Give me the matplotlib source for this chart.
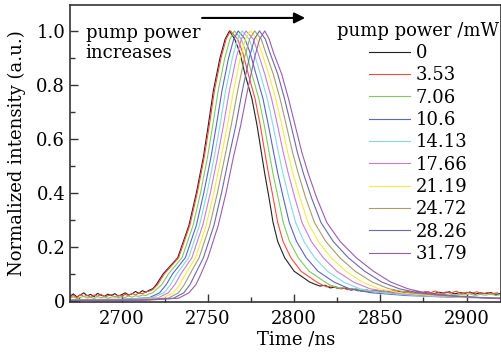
import numpy as np
import matplotlib
matplotlib.use('Agg')
import matplotlib.pyplot as plt
from matplotlib.ticker import MultipleLocator, FixedLocator, FixedFormatter

plt.rcParams['font.family'] = 'DejaVu Serif'
plt.rcParams['mathtext.fontset'] = 'dejavuserif'

# pump powers (legend) and line colours
powers = ['0', '3.53', '7.06', '10.6', '14.13', '17.66', '21.19', '24.72', '28.26', '31.79']
colors = ['#222222', '#ff4a3a', '#7fcc5a', '#5866c4', '#86d6ea', '#c77ed0',
          '#f2ea4a', '#a89c6a', '#6a6aa8', '#9a5cb4']

# intensity levels read on the rising and falling edges
rise_levels = [0.06, 0.1, 0.16, 0.28, 0.4, 0.53, 0.65, 0.78, 0.9, 0.97, 1.0]
fall_levels = [0.97, 0.92, 0.84, 0.75, 0.65, 0.55, 0.47, 0.38, 0.29, 0.22, 0.16, 0.11, 0.07]

# time (ns) at which each curve crosses the rise levels
rise_t = [
    [2720, 2724, 2732.5, 2739, 2743.3, 2747.3, 2750.2, 2753.2, 2757, 2760, 2762.5],
    [2720.7, 2724.7, 2733, 2739.5, 2743.8, 2747.8, 2750.8, 2753.8, 2757.6, 2760.6, 2763.1],
    [2723.2, 2727.1, 2735, 2741.4, 2745.7, 2749.7, 2752.8, 2756, 2759.8, 2762.8, 2765.4],
    [2725.8, 2729.5, 2736.9, 2743.3, 2747.6, 2751.7, 2754.9, 2758.2, 2762, 2765, 2767.6],
    [2728.3, 2731.9, 2738.8, 2745.1, 2749.5, 2753.6, 2757, 2760.3, 2764.2, 2767.2, 2769.9],
    [2730.8, 2734.3, 2740.7, 2747, 2751.4, 2755.5, 2759, 2762.5, 2766.4, 2769.4, 2772.1],
    [2733.6, 2737, 2742.8, 2749, 2753.4, 2757.6, 2761.3, 2764.9, 2768.8, 2771.8, 2774.6],
    [2736.3, 2739.6, 2744.9, 2751.1, 2755.5, 2759.7, 2763.5, 2767.3, 2771.2, 2774.2, 2777.1],
    [2739.6, 2742.7, 2747.4, 2753.5, 2757.9, 2762.1, 2766.2, 2770, 2774, 2777, 2779.9],
    [2743, 2746, 2750, 2756, 2760.5, 2764.7, 2769, 2773, 2777, 2780, 2783],
]

# time (ns) at which each curve crosses the fall levels
fall_t = [
    [2765.5, 2768.5, 2771.5, 2775.5, 2778.5, 2781, 2783, 2785.5, 2787.8, 2790.5, 2794.5, 2800, 2809],
    [2767.2, 2770.2, 2773.4, 2777.3, 2780.4, 2783, 2785.2, 2787.9, 2790.5, 2793.6, 2798.1, 2804, 2813.1],
    [2769.3, 2772.2, 2775.5, 2779.5, 2782.7, 2785.5, 2787.8, 2790.8, 2793.7, 2797.4, 2802.4, 2808.7, 2817.9],
    [2771.5, 2774.4, 2777.9, 2781.9, 2785.1, 2788.1, 2790.6, 2793.8, 2797.2, 2801.4, 2807, 2813.8, 2823.1],
    [2773.9, 2776.7, 2780.4, 2784.4, 2787.8, 2790.9, 2793.6, 2797.1, 2800.9, 2805.7, 2811.9, 2819.3, 2828.7],
    [2776.3, 2779, 2783, 2786.9, 2790.4, 2793.7, 2796.7, 2800.5, 2804.6, 2810, 2816.9, 2824.8, 2834.4],
    [2778.5, 2781.2, 2785.3, 2789.3, 2792.9, 2796.3, 2799.4, 2803.5, 2808.1, 2814, 2821.5, 2829.9, 2839.6],
    [2780.9, 2783.5, 2787.9, 2791.8, 2795.5, 2799.1, 2802.5, 2806.8, 2811.8, 2818.4, 2826.5, 2835.4, 2845.2],
    [2783.3, 2785.9, 2790.5, 2794.4, 2798.2, 2801.9, 2805.5, 2810.2, 2815.6, 2822.7, 2831.4, 2840.9, 2850.8],
    [2785.5, 2788, 2792.8, 2796.7, 2800.6, 2804.5, 2808.3, 2813.2, 2819, 2826.7, 2836, 2846, 2856],
]

# baseline before the pulse (noisy for the lowest three powers)
head_noisy_t = [2670, 2672, 2674, 2676, 2678, 2680, 2682, 2684, 2686, 2688, 2690, 2692, 2694,
                2696, 2698, 2700, 2702, 2704, 2706, 2708, 2710, 2712, 2714, 2716, 2718]
head_t = [
    head_noisy_t,
    head_noisy_t,
    head_noisy_t,
    [2670, 2700, 2716, 2722],
    [2670, 2700, 2718, 2724.5],
    [2670, 2705, 2721, 2727],
    [2670, 2708, 2724, 2730],
    [2670, 2710, 2727, 2733],
    [2670, 2712, 2730, 2736],
    [2670, 2715, 2733, 2739],
]
head_v = [
    [0.018, 0.026, 0.015, 0.022, 0.030, 0.019, 0.024, 0.016, 0.028, 0.021, 0.017, 0.025, 0.020,
     0.027, 0.018, 0.023, 0.030, 0.022, 0.026, 0.035, 0.028, 0.038, 0.032, 0.040, 0.045],
    [0.014, 0.020, 0.012, 0.024, 0.016, 0.021, 0.013, 0.022, 0.017, 0.025, 0.015, 0.019, 0.023,
     0.014, 0.021, 0.018, 0.024, 0.020, 0.028, 0.022, 0.030, 0.026, 0.034, 0.036, 0.042],
    [0.010, 0.015, 0.008, 0.013, 0.017, 0.011, 0.014, 0.009, 0.016, 0.012, 0.015, 0.010, 0.014,
     0.017, 0.012, 0.015, 0.013, 0.018, 0.014, 0.019, 0.017, 0.022, 0.020, 0.026, 0.030],
    [0.005, 0.006, 0.012, 0.030],
    [0.004, 0.005, 0.012, 0.030],
    [0.004, 0.005, 0.011, 0.030],
    [0.003, 0.004, 0.011, 0.030],
    [0.003, 0.004, 0.010, 0.030],
    [0.002, 0.003, 0.010, 0.030],
    [0.002, 0.003, 0.010, 0.030],
]

# tail after the pulse
tail_t = [
    [2812, 2815, 2818, 2821, 2824, 2827, 2830, 2833, 2836, 2839, 2842, 2845, 2848, 2851, 2854,
     2857, 2860, 2863, 2866, 2869, 2872, 2875, 2878, 2881, 2884, 2887, 2890, 2893, 2896, 2899,
     2902, 2905, 2908, 2911, 2914, 2917, 2920],
    [2816, 2819, 2822, 2825, 2828, 2831, 2834, 2837, 2840, 2843, 2846, 2849, 2852, 2855, 2858,
     2861, 2864, 2867, 2870, 2873, 2876, 2879, 2882, 2885, 2888, 2891, 2894, 2897, 2900, 2903,
     2906, 2909, 2912, 2915, 2918],
    [2821, 2824, 2827, 2830, 2833, 2836, 2839, 2842, 2845, 2848, 2851, 2854, 2857, 2860, 2863,
     2866, 2869, 2872, 2875, 2878, 2881, 2884, 2887, 2890, 2893, 2896, 2899, 2902, 2905, 2908,
     2911, 2914, 2917, 2920],
    [2832, 2845, 2865, 2890, 2920],
    [2838, 2851, 2870, 2895, 2920],
    [2844, 2857, 2875, 2898, 2920],
    [2849, 2862, 2880, 2900, 2920],
    [2855, 2867, 2884, 2903, 2920],
    [2861, 2872, 2888, 2906, 2920],
    [2866, 2876, 2890, 2908, 2920],
]
tail_v = [
    [0.062, 0.055, 0.058, 0.048, 0.052, 0.045, 0.047, 0.040, 0.044, 0.036, 0.041, 0.035, 0.039,
     0.032, 0.037, 0.031, 0.036, 0.030, 0.034, 0.028, 0.035, 0.030, 0.033, 0.027, 0.032, 0.029,
     0.034, 0.026, 0.031, 0.028, 0.033, 0.025, 0.030, 0.027, 0.031, 0.024, 0.028],
    [0.060, 0.052, 0.056, 0.046, 0.049, 0.041, 0.045, 0.037, 0.042, 0.034, 0.040, 0.031, 0.038,
     0.030, 0.041, 0.029, 0.036, 0.032, 0.039, 0.028, 0.035, 0.030, 0.037, 0.027, 0.033, 0.029,
     0.036, 0.026, 0.032, 0.028, 0.034, 0.025, 0.031, 0.027, 0.030],
    [0.058, 0.052, 0.047, 0.050, 0.042, 0.045, 0.037, 0.040, 0.033, 0.036, 0.030, 0.034, 0.028,
     0.032, 0.026, 0.030, 0.025, 0.029, 0.024, 0.028, 0.022, 0.027, 0.023, 0.026, 0.021, 0.025,
     0.022, 0.026, 0.020, 0.024, 0.021, 0.025, 0.020, 0.023],
    [0.045, 0.030, 0.020, 0.014, 0.012],
    [0.045, 0.030, 0.020, 0.013, 0.011],
    [0.045, 0.030, 0.020, 0.013, 0.010],
    [0.045, 0.030, 0.020, 0.013, 0.010],
    [0.045, 0.030, 0.020, 0.013, 0.010],
    [0.045, 0.030, 0.020, 0.013, 0.009],
    [0.045, 0.030, 0.020, 0.012, 0.008],
]

fs = 13

fig = plt.figure(figsize=(5.01, 3.56), dpi=100)
ax = fig.add_axes([0.1397, 0.1517, 0.8603, 0.8343])

for i in range(len(powers)):
    t = head_t[i] + rise_t[i] + fall_t[i] + tail_t[i]
    v = head_v[i] + rise_levels + fall_levels + tail_v[i]
    ax.plot(t, v, color=colors[i], lw=0.8, label=powers[i])

ax.set_xlim(2670, 2920)
ax.set_ylim(-0.004, 1.096)
ax.xaxis.set_major_locator(MultipleLocator(50))
ax.xaxis.set_minor_locator(MultipleLocator(25))
ax.yaxis.set_major_locator(FixedLocator([0, 0.2, 0.4, 0.6, 0.8, 1.0]))
ax.yaxis.set_major_formatter(FixedFormatter(['0', '0.2', '0.4', '0.6', '0.8', '1.0']))
ax.yaxis.set_minor_locator(MultipleLocator(0.1))
ax.tick_params(which='both', direction='in', labelsize=fs, color='#333333', width=1.0)
ax.tick_params(which='major', length=6)
ax.tick_params(axis='x', pad=6)
ax.tick_params(which='minor', length=3.5)
for s in ax.spines.values():
    s.set_linewidth(1.2)
    s.set_color('#333333')

ax.set_xlabel('Time /ns', fontsize=fs)
ax.xaxis.set_label_coords((296 - 70) / 431, -0.095)
ax.set_ylabel('Normalized intensity (a.u.)', fontsize=fs)
ax.yaxis.set_label_coords(-0.102, 0.5)

ax.text(2679, 0.955, 'pump power\nincreases', fontsize=fs, va='center', ha='left',
        linespacing=1.2)
ax.annotate('', xy=(2808, 1.048), xytext=(2745, 1.048),
            arrowprops=dict(arrowstyle='-|>', color='k', lw=1.5, mutation_scale=16))

leg = ax.legend(title='pump power /mW', loc='upper right', bbox_to_anchor=(1.0, 0.944),
                bbox_transform=fig.transFigure, frameon=False, fontsize=fs,
                title_fontsize=fs, handlelength=2.3, handletextpad=0.3,
                labelspacing=0.24, borderaxespad=0, borderpad=0.1)

fig.savefig('out.png', dpi=100)
